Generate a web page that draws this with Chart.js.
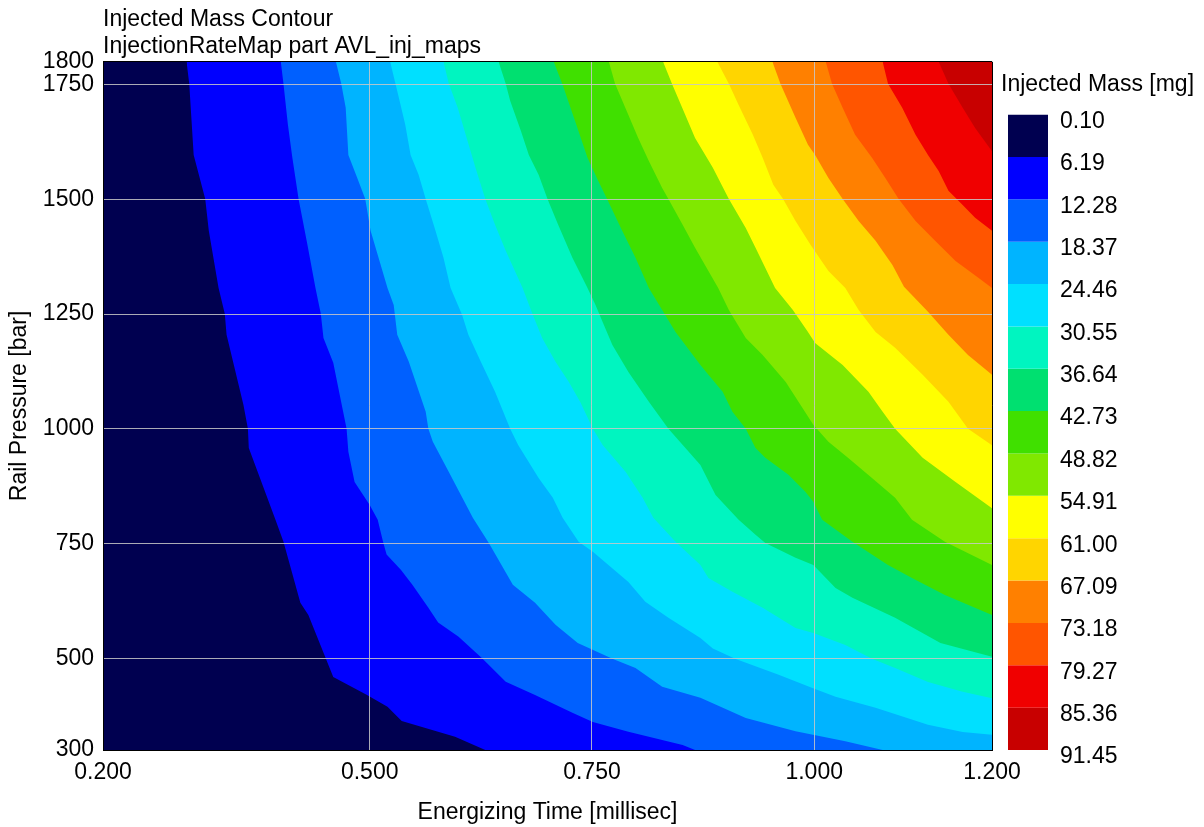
<!DOCTYPE html>
<html>
<head>
<meta charset="utf-8">
<title>Injected Mass Contour</title>
<script src="https://cdn.jsdelivr.net/npm/chart.js@4.4.1/dist/chart.umd.min.js"></script>
<style>
  body { margin: 0; background: #fff; }
  #wrap { position: relative; width: 1204px; height: 827px; }
  #contourChart { position: absolute; left: 0; top: 0; }
  #scaleChart { position: absolute; left: 995px; top: 0; }
</style>
</head>
<body>
<div id="wrap">
  <canvas id="contourChart" width="1204" height="827"></canvas>
  <canvas id="scaleChart" width="209" height="827"></canvas>
</div>
<script>
// Уровни впрыснутой массы, мг (границы полос)
const levels = [0.10, 6.19, 12.28, 18.37, 24.46, 30.55, 36.64, 42.73, 48.82, 54.91, 61.00, 67.09, 73.18, 79.27, 85.36, 91.45];

// Цвета полос между уровнями
const bandColors = [
  "#000050", "#0000ff", "#0060ff", "#00b4ff", "#00e0ff",
  "#00f5c0", "#00e070", "#40e000", "#80e800", "#ffff00",
  "#ffd500", "#ff8000", "#ff5500", "#f00000", "#c80000",
];

// Подписи осей
const timeTicks = [0.2, 0.5, 0.75, 1.0, 1.2];
const pressureTicks = [300, 500, 750, 1000, 1250, 1500, 1750, 1800];

// Изолинии: [время, мс; давление, бар], от верхней границы вниз/вправо
const domainFloor = [[0.2, 300], [1.2, 300]];

const iso_6_19 = [
  [0.294, 1800], [0.297, 1752], [0.302, 1597], [0.315, 1501], [0.319, 1432], [0.330, 1307],
  [0.337, 1251], [0.339, 1205], [0.358, 1052], [0.363, 1000], [0.364, 958], [0.394, 802],
  [0.403, 754], [0.422, 621], [0.431, 594], [0.459, 459], [0.497, 420], [0.520, 394],
  [0.536, 363], [0.596, 329], [0.630, 300], [1.2, 300],
];

const iso_12_28 = [
  [0.400, 1800], [0.403, 1752], [0.408, 1663], [0.413, 1591], [0.420, 1501], [0.430, 1401],
  [0.439, 1307], [0.445, 1251], [0.448, 1198], [0.459, 1144], [0.467, 1067], [0.474, 1000],
  [0.476, 950], [0.483, 884], [0.500, 834], [0.509, 802], [0.515, 754], [0.519, 726],
  [0.535, 693], [0.548, 660], [0.566, 610], [0.577, 578], [0.600, 547], [0.627, 499],
  [0.653, 449], [0.686, 420], [0.728, 381], [0.751, 361], [0.791, 340], [0.852, 311],
  [0.866, 300], [1.2, 300],
];

const iso_18_37 = [
  [0.462, 1800], [0.468, 1752], [0.473, 1700], [0.476, 1597], [0.486, 1547], [0.495, 1501],
  [0.501, 1432], [0.520, 1307], [0.527, 1270], [0.531, 1205], [0.544, 1146], [0.563, 1037],
  [0.566, 1000], [0.571, 972], [0.589, 906], [0.616, 806], [0.634, 751], [0.661, 660],
  [0.686, 621], [0.709, 573], [0.734, 533], [0.773, 499], [0.799, 479], [0.829, 438],
  [0.872, 414], [0.923, 370], [0.979, 341], [1.035, 319], [1.077, 300], [1.2, 300],
];

const iso_24_46 = [
  [0.523, 1800], [0.529, 1752], [0.532, 1728], [0.540, 1663], [0.546, 1597], [0.555, 1554],
  [0.563, 1501], [0.574, 1432], [0.583, 1373], [0.591, 1307], [0.604, 1248], [0.611, 1205],
  [0.625, 1146], [0.641, 1081], [0.658, 1000], [0.667, 965], [0.690, 893], [0.706, 850],
  [0.717, 806], [0.735, 754], [0.751, 732], [0.791, 666], [0.810, 623], [0.836, 588],
  [0.872, 544], [0.886, 521], [0.911, 499], [0.960, 464], [0.998, 435], [1.024, 416],
  [1.069, 392], [1.128, 355], [1.167, 339], [1.2, 333],
];

const iso_30_55 = [
  [0.583, 1800], [0.589, 1752], [0.599, 1700], [0.610, 1628], [0.619, 1569], [0.630, 1501],
  [0.641, 1445], [0.653, 1388], [0.672, 1307], [0.683, 1251], [0.694, 1198], [0.709, 1146],
  [0.724, 1102], [0.737, 1058], [0.751, 1000], [0.762, 965], [0.788, 906], [0.807, 850],
  [0.819, 806], [0.844, 754], [0.872, 703], [0.881, 675], [0.908, 645], [0.942, 610],
  [0.979, 566], [0.999, 555], [1.035, 529], [1.065, 499], [1.091, 479], [1.128, 448],
  [1.167, 427], [1.2, 413],
];

const iso_36_64 = [
  [0.645, 1800], [0.653, 1752], [0.658, 1715], [0.670, 1650], [0.679, 1597], [0.690, 1554],
  [0.700, 1501], [0.712, 1445], [0.728, 1373], [0.745, 1307], [0.754, 1270], [0.762, 1233],
  [0.773, 1183], [0.791, 1124], [0.814, 1059], [0.836, 1000], [0.872, 921], [0.889, 856],
  [0.915, 802], [0.934, 769], [0.945, 751], [0.979, 719], [0.999, 703], [1.024, 653],
  [1.043, 632], [1.091, 588], [1.142, 533], [1.2, 503],
];

const iso_42_73 = [
  [0.707, 1800], [0.717, 1750], [0.731, 1671], [0.745, 1591], [0.757, 1541], [0.767, 1501],
  [0.784, 1432], [0.799, 1373], [0.814, 1307], [0.844, 1211], [0.872, 1139], [0.881, 1118],
  [0.897, 1081], [0.908, 1037], [0.923, 1000], [0.934, 958], [0.945, 937], [0.971, 900],
  [0.990, 863], [0.999, 841], [1.009, 802], [1.043, 754], [1.083, 703], [1.110, 675],
  [1.147, 638], [1.2, 594],
];

const iso_48_82 = [
  [0.769, 1800], [0.776, 1752], [0.791, 1684], [0.802, 1634], [0.814, 1584], [0.829, 1525],
  [0.836, 1501], [0.852, 1445], [0.866, 1395], [0.892, 1307], [0.904, 1259], [0.923, 1198],
  [0.942, 1161], [0.968, 1102], [0.999, 1009], [1.016, 972], [1.038, 937], [1.065, 893],
  [1.091, 850], [1.110, 802], [1.147, 754], [1.2, 703],
];

const iso_54_91 = [
  [0.830, 1800], [0.840, 1752], [0.855, 1684], [0.866, 1634], [0.886, 1569], [0.904, 1501],
  [0.923, 1438], [0.934, 1395], [0.956, 1307], [0.976, 1259], [0.993, 1211], [1.001, 1187],
  [1.032, 1139], [1.061, 1081], [1.077, 1037], [1.091, 1000], [1.122, 937], [1.159, 884],
  [1.2, 827],
];

const iso_61_00 = [
  [0.891, 1800], [0.904, 1752], [0.915, 1706], [0.931, 1641], [0.942, 1591], [0.954, 1532],
  [0.965, 1501], [0.979, 1453], [0.996, 1401], [1.016, 1344], [1.035, 1307], [1.050, 1259],
  [1.069, 1211], [1.091, 1177], [1.122, 1118], [1.151, 1059], [1.173, 1000], [1.2, 964],
];

const iso_67_09 = [
  [0.953, 1800], [0.962, 1752], [0.979, 1678], [0.993, 1619], [1.001, 1597], [1.016, 1547],
  [1.032, 1501], [1.050, 1453], [1.069, 1410], [1.088, 1357], [1.101, 1310], [1.128, 1255],
  [1.151, 1205], [1.173, 1161], [1.2, 1118],
];

const iso_73_18 = [
  [1.013, 1800], [1.020, 1752], [1.032, 1700], [1.046, 1641], [1.065, 1591], [1.080, 1547],
  [1.095, 1501], [1.114, 1453], [1.136, 1410], [1.159, 1366], [1.185, 1329], [1.2, 1307],
];

const iso_79_27 = [
  [1.077, 1800], [1.083, 1752], [1.099, 1700], [1.114, 1641], [1.128, 1597], [1.140, 1562],
  [1.151, 1519], [1.167, 1488], [1.181, 1460], [1.2, 1432],
];

const iso_85_36 = [
  [1.140, 1800], [1.151, 1752], [1.167, 1700], [1.181, 1656], [1.2, 1605],
];

const isolines = [
  domainFloor, iso_6_19, iso_12_28, iso_18_37, iso_24_46, iso_30_55, iso_36_64, iso_42_73,
  iso_48_82, iso_54_91, iso_61_00, iso_67_09, iso_73_18, iso_79_27, iso_85_36,
];

const GRID_COLOR = "rgba(200, 200, 200, 0.85)";
const FRAME_COLOR = "#000";

Chart.defaults.font.family = "Arial, 'Liberation Sans', sans-serif";
Chart.defaults.font.size = 23;
Chart.defaults.color = "#000";

function toPoints(pairs) {
  return pairs.map(([x, y]) => ({ x, y }));
}

// Каждая изолиния заливается до верхнего края, следующие уровни ложатся поверх
function buildLayers() {
  return isolines.map((pairs, i) => ({
    data: toPoints(pairs),
    fill: "end",
    backgroundColor: bandColors[i],
    borderColor: "transparent",
    borderWidth: 0,
    pointRadius: 0,
    tension: 0,
    order: isolines.length - i,
  }));
}

// Линии сетки на краях области рисуем чёрными — получается рамка
function gridColor(edges) {
  return (ctx) => (edges.includes(ctx.tick.value) ? FRAME_COLOR : GRID_COLOR);
}

new Chart(document.getElementById("contourChart"), {
  type: "line",
  data: { datasets: buildLayers() },
  options: {
    responsive: false,
    animation: false,
    events: [],
    layout: { padding: { left: 0, top: 0, right: 212, bottom: 0 } },
    plugins: {
      legend: { display: false },
      tooltip: { enabled: false },
      title: {
        display: true,
        text: ["Injected Mass Contour", "InjectionRateMap part AVL_inj_maps"],
        align: "start",
        fullSize: false,
        color: "#000",
        font: { size: 23, weight: "normal", lineHeight: 1.17 },
        padding: { top: 6, bottom: 2 },
      },
    },
    scales: {
      x: {
        type: "linear",
        min: 0.2,
        max: 1.2,
        afterBuildTicks: (axis) => {
          axis.ticks = timeTicks.map((v) => ({ value: v }));
        },
        afterFit: (axis) => {
          axis.height = 77;
        },
        ticks: {
          autoSkip: false,
          maxRotation: 0,
          padding: 9,
          callback: (v) => Number(v).toFixed(3),
        },
        // сетка поверх заливки
        grid: { color: gridColor([0.2, 1.2]), drawTicks: false, z: 1 },
        border: { color: FRAME_COLOR, width: 1, z: 2 },
        title: {
          display: true,
          text: "Energizing Time [millisec]",
          padding: { top: 0, bottom: 1 },
        },
      },
      y: {
        type: "linear",
        min: 300,
        max: 1800,
        afterBuildTicks: (axis) => {
          axis.ticks = pressureTicks.map((v) => ({ value: v }));
        },
        afterFit: (axis) => {
          axis.width = 103;
        },
        ticks: {
          autoSkip: false,
          padding: 9,
          callback: (v) => String(v),
        },
        grid: { color: gridColor([300, 1800]), drawTicks: false, z: 1 },
        border: { color: FRAME_COLOR, width: 1, z: 2 },
        title: {
          display: true,
          text: "Rail Pressure [bar]",
          padding: { top: 6, bottom: 0 },
        },
      },
    },
  },
});

// Цветовая шкала: плавающие столбики от уровня до уровня
new Chart(document.getElementById("scaleChart"), {
  type: "bar",
  data: {
    labels: [""],
    datasets: bandColors.map((color, i) => ({
      data: [[levels[i], levels[i + 1]]],
      backgroundColor: color,
      borderWidth: 0,
      grouped: false,
      barPercentage: 40 / 54,
      categoryPercentage: 1,
    })),
  },
  options: {
    responsive: false,
    animation: false,
    events: [],
    layout: { padding: { left: 6, top: 60, right: 0, bottom: 77 } },
    plugins: {
      legend: { display: false },
      tooltip: { enabled: false },
      title: {
        display: true,
        text: "Injected Mass [mg]",
        align: "start",
        color: "#000",
        font: { size: 23, weight: "normal" },
        padding: { top: 11, bottom: 16 },
      },
    },
    scales: {
      x: { display: false },
      y: {
        type: "linear",
        position: "right",
        reverse: true,
        min: levels[0],
        max: levels[levels.length - 1],
        afterBuildTicks: (axis) => {
          axis.ticks = levels.map((v) => ({ value: v }));
        },
        afterFit: (axis) => {
          axis.width = 149;
        },
        ticks: {
          autoSkip: false,
          padding: 5,
          labelOffset: 7,
          callback: (v) => Number(v).toFixed(2),
        },
        grid: { display: false, drawTicks: false },
        border: { display: false },
      },
    },
  },
});
</script>
</body>
</html>
